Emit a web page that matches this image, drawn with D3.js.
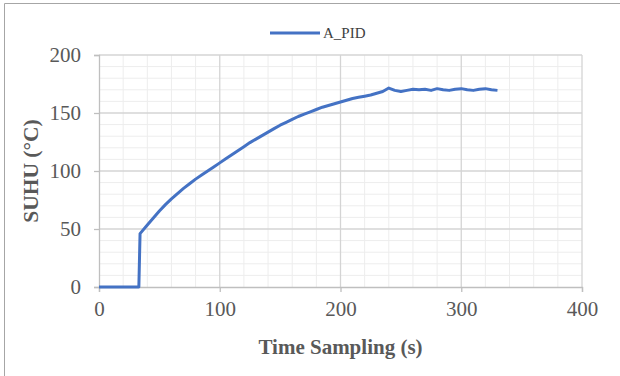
<!DOCTYPE html>
<html><head><meta charset="utf-8">
<script src="https://cdn.jsdelivr.net/npm/d3@7"></script>
<style>body{margin:0;background:#fff}svg{display:block}</style>
</head><body>
<svg id="c" width="620" height="376"></svg>
<script>
const seriesName = "A_PID";
const timeS = [0,5,10,15,20,25,30,33,34,40,45,50,55,60,65,70,75,80,85,90,95,100,105,110,115,120,125,130,135,140,145,150,155,160,165,170,175,180,185,190,195,200,205,210,215,220,225,230,235,240,245,250,255,260,265,270,275,280,285,290,295,300,305,310,315,320,325,330];
const tempC = [0,0,0,0,0,0,0,0,46,53.5,59.5,65.5,71,76,80.5,85,89,93,96.5,100,103.5,107,110.5,114,117.5,121,124.5,127.5,130.5,133.5,136.5,139.5,142,144.5,147,149,151,153,155,156.5,158,159.5,161,162.5,163.5,164.5,165.5,167,168.5,171.5,169.5,168.5,169.5,170.5,170,170.5,169.5,171,170,169.5,170.5,171,170,169.5,170.5,171,170,169.5];
const xTicks = [0,100,200,300,400];
const yTicks = [0,50,100,150,200];
const xTitle = "Time Sampling (s)";
const yTitle = "SUHU (°C)";

const svg = d3.select("#c");
const L = 99, R = 582, T = 55, B = 287;
const x = d3.scaleLinear().domain([0,400]).range([L,R]);
const y = d3.scaleLinear().domain([0,200]).range([B,T]);

svg.append("path").attr("d","M4.5,376V3.5H620").attr("fill","none").attr("stroke","#a6a6a6").attr("stroke-width",1);

const g = svg.append("g");
g.selectAll(".mx").data(d3.range(0,401,20).filter(v=>v%100)).join("line")
  .attr("x1",d=>x(d)).attr("x2",d=>x(d)).attr("y1",T).attr("y2",B)
  .attr("stroke","#ededed").attr("stroke-width",1);
g.selectAll(".my").data(d3.range(0,201,10).filter(v=>v%50)).join("line")
  .attr("y1",d=>y(d)).attr("y2",d=>y(d)).attr("x1",L).attr("x2",R)
  .attr("stroke","#ededed").attr("stroke-width",1);
g.selectAll(".Mx").data(xTicks.slice(1)).join("line")
  .attr("x1",d=>x(d)).attr("x2",d=>x(d)).attr("y1",T).attr("y2",B)
  .attr("stroke","#d4d4d4").attr("stroke-width",1.3);
g.selectAll(".My").data(yTicks.slice(1)).join("line")
  .attr("y1",d=>y(d)).attr("y2",d=>y(d)).attr("x1",L).attr("x2",R)
  .attr("stroke","#d4d4d4").attr("stroke-width",1.3);

const xa = svg.append("g").attr("transform",`translate(0,${B})`)
  .call(d3.axisBottom(x).tickValues(xTicks).tickSize(5).tickPadding(9));
const ya = svg.append("g").attr("transform",`translate(${L},0)`)
  .call(d3.axisLeft(y).tickValues(yTicks).tickSize(5).tickPadding(13));
[xa,ya].forEach(a=>{
  a.select(".domain").attr("stroke","#bfbfbf").attr("stroke-width",1.3);
  a.selectAll(".tick line").attr("stroke","#bfbfbf").attr("stroke-width",1.3);
  a.selectAll("text").attr("fill","#595959").attr("font-family","Liberation Serif").attr("font-size",21);
});

svg.append("path").datum(timeS.map((t,i)=>[t,tempC[i]]))
  .attr("fill","none").attr("stroke","#4472c4").attr("stroke-width",3)
  .attr("stroke-linejoin","round")
  .attr("d",d3.line().x(d=>x(d[0])).y(d=>y(d[1])));

svg.append("text").attr("x",(L+R)/2).attr("y",354).attr("text-anchor","middle")
  .attr("font-family","Liberation Serif").attr("font-weight","bold").attr("font-size",21)
  .attr("fill","#595959").text(xTitle);
svg.append("text").attr("transform",`translate(38,${(T+B)/2}) rotate(-90)`).attr("text-anchor","middle")
  .attr("font-family","Liberation Serif").attr("font-weight","bold").attr("font-size",21.5)
  .attr("fill","#595959").text(yTitle);

svg.append("line").attr("x1",270).attr("x2",320).attr("y1",33).attr("y2",33)
  .attr("stroke","#4472c4").attr("stroke-width",3);
svg.append("text").attr("x",323).attr("y",38).attr("font-family","Liberation Serif")
  .attr("font-size",15).attr("fill","#404040").text(seriesName);
</script>
</body></html>
